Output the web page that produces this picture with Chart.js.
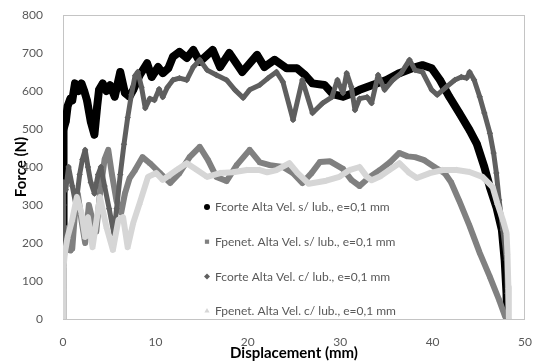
<!DOCTYPE html>
<html><head><meta charset="utf-8">
<script src="https://cdn.jsdelivr.net/npm/chart.js@4.4.1/dist/chart.umd.min.js"></script>
<style>html,body{margin:0;padding:0;background:#fff}#wrap{width:535px;height:362px;position:relative}</style>
</head><body><div id="wrap"><canvas id="c" width="535" height="362"></canvas></div>
<script>
const seriesLabels = [
  'Fcorte Alta Vel. s/ lub., e=0,1 mm',
  'Fpenet. Alta Vel. s/ lub., e=0,1 mm',
  'Fcorte Alta Vel. c/ lub., e=0,1 mm',
  'Fpenet. Alta Vel. c/ lub., e=0,1 mm'
];
const xTickValues = [0, 10, 20, 30, 40, 50];
const yTickValues = [0, 100, 200, 300, 400, 500, 600, 700, 800];

// Fcorte Alta Vel. s/ lub.
const fcorteSX = [0,0.02,0.05,0.1,0.3,0.5,0.8,1.0,1.3,1.7,2.0,2.3,2.6,3.0,3.4,3.7,3.9,4.3,4.7,5.1,5.6,6.2,6.7,7.2,7.6,8.3,9.1,9.6,10.3,10.8,11.4,11.9,12.6,13.4,14.1,14.8,16.2,17.0,18.0,19.4,21.0,21.8,22.9,24.2,25.3,26.2,27.0,28.3,29.2,30.3,31.4,32.1,33.5,35.0,36.4,37.8,38.9,39.9,40.8,41.8,42.9,44.0,44.8,45.6,46.2,46.9,47.5,47.8,48.0,48.05];
const fcorteSY = [190,300,420,500,520,560,580,575,620,600,620,600,575,520,485,560,603,620,600,615,585,650,595,585,603,642,673,637,663,647,660,690,703,687,708,677,708,663,700,650,695,663,682,660,660,642,620,616,592,585,595,603,616,629,647,660,668,660,629,585,542,497,460,400,347,295,234,155,68,0];
// Fpenet. Alta Vel. s/ lub.
const fpenetSX = [0,0.05,0.1,0.2,0.4,0.6,0.8,1.0,1.3,1.6,2.0,2.4,2.8,3.2,3.6,4.0,4.5,4.9,5.3,5.8,6.3,6.7,7.2,7.8,8.6,9.4,10.5,11.6,12.6,13.7,14.8,15.7,16.6,17.7,18.8,20.2,21.3,22.4,23.8,24.9,25.9,26.9,27.8,28.9,30.3,31.2,32.1,33.2,34.3,35.4,36.4,37.3,38.1,39.1,40.2,41.3,42.0,42.9,44.0,45.1,46.2,47.2,47.8,48.0];
const fpenetSY = [0,60,150,200,190,240,180,185,280,330,260,200,300,260,230,330,420,445,380,310,280,330,370,392,426,410,384,358,384,426,453,418,374,363,405,445,412,405,400,384,358,384,413,415,395,366,350,374,392,413,437,428,426,418,400,384,360,310,245,174,111,50,10,0];
// Fcorte Alta Vel. c/ lub.
const fcorteCX = [0,0.03,0.06,0.1,0.3,0.6,1.0,1.4,1.8,2.1,2.4,2.7,3.0,3.4,3.8,4.1,4.5,5.0,5.5,5.8,6.2,6.6,7.0,7.4,7.8,8.1,8.5,8.9,9.4,9.9,10.4,10.8,11.3,11.9,12.6,13.4,14.1,14.8,15.6,16.6,17.7,18.6,19.5,20.2,21.3,22.2,23.1,23.8,24.9,25.9,27.0,28.1,29.1,29.7,30.3,30.7,31.2,31.6,32.1,32.9,33.4,34.1,34.8,35.7,36.6,37.5,38.1,38.9,39.9,40.5,41.5,42.4,43.1,43.7,44.0,44.5,45.1,45.6,46.2,46.6,46.9,47.2,47.6,48.0,48.1,48.2];
const fcorteCY = [0,150,300,360,340,400,350,300,380,420,445,400,360,330,380,400,350,290,225,290,380,460,530,590,640,650,610,555,580,576,605,584,610,629,634,629,663,682,655,642,629,603,582,603,616,634,650,624,524,629,542,568,584,629,595,647,611,550,580,584,568,642,603,629,647,682,655,650,603,590,611,629,637,634,650,629,585,542,489,437,384,313,234,155,68,0];
// Fpenet. Alta Vel. c/ lub.
const fpenetCX = [0,0.05,0.1,0.2,0.5,1.0,1.5,2.0,2.4,2.7,3.2,4.0,4.7,5.4,6.0,6.5,7.0,7.6,8.3,9.2,10.1,10.8,12.3,13.4,14.5,15.6,17.0,18.4,19.9,21.3,22.1,23.1,24.5,25.4,26.6,28.5,29.9,31.0,32.1,32.9,33.4,34.3,35.2,36.4,37.5,38.3,39.7,41.1,42.6,44.0,45.4,46.5,47.0,47.6,48.0,48.1,48.2,48.25];
const fpenetCY = [0,80,140,174,216,261,321,279,216,268,189,321,242,182,261,268,189,253,305,374,384,366,392,410,392,374,384,386,392,392,386,392,410,384,356,364,374,392,400,374,365,375,390,410,384,371,384,392,392,387,374,347,305,261,226,174,84,0];

const pts = (xs, ys) => xs.map((x, i) => ({x, y: ys[i]}));

const seriesStyles = [
  {color: '#000000', shape: 'circle', w: 8, r: 3.5, order: 4},
  {color: '#808080', shape: 'rect', w: 6, r: 3.2, order: 3},
  {color: '#5f5f5f', shape: 'rectRot', w: 5, r: 3.2, order: 2},
  {color: '#d6d6d6', shape: 'triangle', w: 6, r: 3.5, order: 1}
];
const seriesData = [
  pts(fcorteSX, fcorteSY), pts(fpenetSX, fpenetSY),
  pts(fcorteCX, fcorteCY), pts(fpenetCX, fpenetCY)
];

const frame = {
  id: 'frame',
  beforeDatasetsDraw(chart) {
    const {ctx, chartArea: a} = chart;
    ctx.save();
    ctx.strokeStyle = '#c4c4c4';
    ctx.lineWidth = 1;
    ctx.strokeRect(Math.round(a.left) + 0.5, Math.round(a.top) + 0.5,
      Math.round(a.right - a.left) - 1, Math.round(a.bottom - a.top));
    ctx.restore();
  }
};

const innerLegend = {
  id: 'innerLegend',
  afterDraw(chart, args, opts) {
    const ctx = chart.ctx;
    ctx.save();
    ctx.font = opts.font;
    ctx.textBaseline = 'middle';
    ctx.textAlign = 'left';
    chart.data.datasets.forEach((ds, i) => {
      const y = opts.top + i * opts.spacing;
      ctx.fillStyle = ds.pointBackgroundColor;
      ctx.strokeStyle = ds.pointBackgroundColor;
      Chart.helpers.drawPoint(ctx, {pointStyle: ds.pointStyle, radius: 3, borderWidth: 0, rotation: 0}, opts.left, y);
      ctx.fillStyle = opts.color;
      ctx.fillText(ds.label, opts.left + 8, y + 0.5);
    });
    ctx.restore();
  }
};

new Chart(document.getElementById('c'), {
  type: 'scatter',
  data: {
    datasets: seriesData.map((d, i) => ({
      label: seriesLabels[i],
      data: d,
      showLine: true,
      borderColor: seriesStyles[i].color,
      backgroundColor: seriesStyles[i].color,
      pointBackgroundColor: seriesStyles[i].color,
      pointBorderWidth: 0,
      borderWidth: seriesStyles[i].w,
      pointStyle: seriesStyles[i].shape,
      pointRadius: seriesStyles[i].r,
      tension: 0,
      order: seriesStyles[i].order,
      borderJoinStyle: 'round',
      borderCapStyle: 'round'
    }))
  },
  options: {
    responsive: false,
    devicePixelRatio: 1,
    animation: false,
    layout: {padding: {left: 0, right: 10, top: 15, bottom: 0}},
    plugins: {
      legend: {display: false},
      tooltip: {enabled: false},
      innerLegend: {left: 207, top: 207, spacing: 34.7, font: '12px Lato', color: '#595959'}
    },
    scales: {
      x: {
        type: 'linear', min: 0, max: 50,
        afterFit: s => { s.height = 43; s.paddingLeft = 0; s.paddingRight = 0; },
        afterBuildTicks: s => { s.ticks = xTickValues.map(v => ({value: v})); },
        grid: {display: false},
        border: {display: false},
        ticks: {color: '#595959', font: {family: 'Lato', size: 12}, padding: 8, maxRotation: 0},
        title: {display: true, text: 'Displacement (mm)', color: '#000', font: {family: 'Lato', size: 15, weight: 'bold'}, padding: {top: 1, bottom: 0}}
      },
      y: {
        type: 'linear', min: 0, max: 800,
        afterFit: s => { s.width = 63; s.paddingTop = 0; s.paddingBottom = 0; },
        afterBuildTicks: s => { s.ticks = yTickValues.map(v => ({value: v})); },
        grid: {display: false},
        border: {display: false},
        ticks: {color: '#595959', font: {family: 'Lato', size: 12}, padding: 12},
        title: {display: true, text: 'Force (N)', color: '#000', font: {family: 'Lato', size: 15, weight: 'bold'}, padding: {top: 12, bottom: 0}}
      }
    }
  },
  plugins: [frame, innerLegend]
});
</script></body></html>
